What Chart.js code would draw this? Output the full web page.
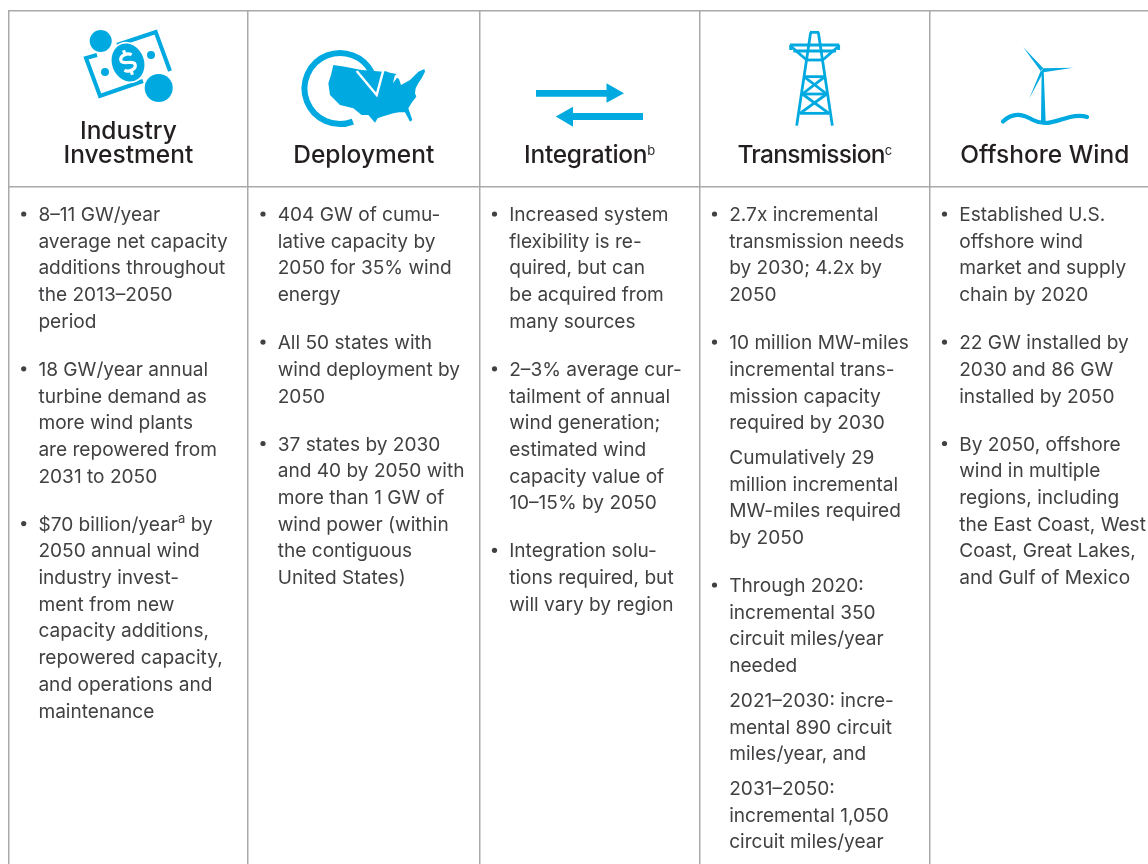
<!DOCTYPE html>
<html>
<head>
<meta charset="utf-8">
<title>Wind Vision roadmap table</title>
<script src="https://cdn.jsdelivr.net/npm/chart.js@4"></script>
<style>
  html, body { margin: 0; padding: 0; background: #fff; overflow: hidden; }
  canvas { display: block; }
</style>
</head>
<body>
<canvas id="table" width="1148" height="864"></canvas>
<script>
// column headings, ^x marks a superscript letter
const titles = [
  ["Industry", "Investment"],
  ["Deployment"],
  ["Integration^b"],
  ["Transmission^c"],
  ["Offshore Wind"]
];

// each paragraph is a list of lines, "• " starts a new bullet
const industryInvestment = [
  ["• 8–11 GW/year", "average net capacity", "additions throughout", "the 2013–2050", "period"],
  ["• 18 GW/year annual", "turbine demand as", "more wind plants", "are repowered from", "2031 to 2050"],
  ["• $70 billion/year^a by", "2050 annual wind", "industry invest-", "ment from new", "capacity additions,", "repowered capacity,", "and operations and", "maintenance"]
];
const deployment = [
  ["• 404 GW of cumu-", "lative capacity by", "2050 for 35% wind", "energy"],
  ["• All 50 states with", "wind deployment by", "2050"],
  ["• 37 states by 2030", "and 40 by 2050 with", "more than 1 GW of", "wind power (within", "the contiguous", "United States)"]
];
const integration = [
  ["• Increased system", "flexibility is re-", "quired, but can", "be acquired from", "many sources"],
  ["• 2–3% average cur-", "tailment of annual", "wind generation;", "estimated wind", "capacity value of", "10–15% by 2050"],
  ["• Integration solu-", "tions required, but", "will vary by region"]
];
const transmission = [
  ["• 2.7x incremental", "transmission needs", "by 2030; 4.2x by", "2050"],
  ["• 10 million MW-miles", "incremental trans-", "mission capacity", "required by 2030"],
  ["Cumulatively 29", "million incremental", "MW-miles required", "by 2050"],
  ["• Through 2020:", "incremental 350", "circuit miles/year", "needed"],
  ["2021–2030: incre-", "mental 890 circuit", "miles/year, and"],
  ["2031–2050:", "incremental 1,050", "circuit miles/year"]
];
const offshoreWind = [
  ["• Established U.S.", "offshore wind", "market and supply", "chain by 2020"],
  ["• 22 GW installed by", "2030 and 86 GW", "installed by 2050"],
  ["• By 2050, offshore", "wind in multiple", "regions, including", "the East Coast, West", "Coast, Great Lakes,", "and Gulf of Mexico"]
];
const columns = [industryInvestment, deployment, integration, transmission, offshoreWind];

// rule positions of the table
const columnEdges = [8.7, 248, 479.5, 699.5, 929.5];
const rowEdges = [10.7, 187];
const tableRight = 1160;

const BLUE = "#00a9e0";
const TEXT = "#414042";
const HEAD = "#231f20";
const BODY_FONT = '400 19.1px Inter';
const HEAD_FONT = '500 24.5px Inter';
const SUP_FONT = '400 13px Inter';
const HEAD_SPACING = [0, 0, -0.3, -0.7, 0];
const LINE = 26.7, BULLET_GAP = 21.3, SUB_GAP = 8;

// walk the paragraphs once so the bullets and the text share one layout
function layoutColumn(paragraphs) {
  let y = 221;
  const lines = [];
  const dots = [];
  paragraphs.forEach((para, p) => {
    const isBullet = para[0].startsWith("• ");
    if (p > 0) y += isBullet ? BULLET_GAP : SUB_GAP;
    if (isBullet) dots.push(y - 7);
    para.forEach((line, i) => {
      lines.push({ text: i === 0 && isBullet ? line.slice(2) : line, y });
      y += LINE;
    });
  });
  return { lines, dots };
}
const layouts = columns.map(layoutColumn);
const bulletPoints = layouts.flatMap((l, c) => l.dots.map(y => ({ x: columnEdges[c] + 15, y })));

function richWidth(ctx, text, font) {
  let w = 0;
  text.split(/\^(.)/).forEach((part, i) => {
    ctx.font = i % 2 ? SUP_FONT : font;
    w += ctx.measureText(part).width;
  });
  return w;
}

function drawRich(ctx, text, x, y, font) {
  text.split(/\^(.)/).forEach((part, i) => {
    if (!part) return;
    ctx.font = i % 2 ? SUP_FONT : font;
    ctx.fillText(part, x, i % 2 ? y - 8 : y);
    x += ctx.measureText(part).width;
  });
}

// icons, outlines
function poly(ctx, pts, ox, oy, k) {
  ctx.beginPath();
  pts.forEach((p, i) => ctx[i ? "lineTo" : "moveTo"](ox + p[0] / k, oy + p[1] / k));
  ctx.closePath();
}
function strokeLine(ctx, a, b, c, d) {
  ctx.beginPath(); ctx.moveTo(a, b); ctx.lineTo(c, d); ctx.stroke();
}

function drawMoneyIcon(ctx) {
  ctx.fillStyle = BLUE; ctx.strokeStyle = BLUE;
  ctx.beginPath(); ctx.arc(100.7, 41, 11, 0, 2 * Math.PI); ctx.fill();
  ctx.beginPath(); ctx.arc(158.7, 88, 14, 0, 2 * Math.PI); ctx.fill();
  ctx.lineWidth = 4;
  ctx.beginPath();
  ctx.moveTo(97, 55); ctx.lineTo(86, 58); ctx.lineTo(100, 96); ctx.lineTo(143, 81);
  ctx.stroke();
  ctx.beginPath();
  ctx.moveTo(117, 45); ctx.lineTo(155.7, 32); ctx.lineTo(170, 71);
  ctx.stroke();
  ctx.beginPath(); ctx.arc(105, 72, 4, 0, 2 * Math.PI); ctx.fill();
  ctx.beginPath(); ctx.arc(151, 55, 4, 0, 2 * Math.PI); ctx.fill();
  ctx.save();
  ctx.translate(128, 62.5);
  ctx.rotate(-0.35);
  ctx.beginPath(); ctx.ellipse(0, 0, 16, 19.5, 0, 0, 2 * Math.PI);
  ctx.strokeStyle = "#fff"; ctx.lineWidth = 3; ctx.stroke();
  ctx.fill();
  ctx.lineWidth = 3.2;
  ctx.beginPath();
  ctx.moveTo(6, -6); ctx.bezierCurveTo(3, -10, -6, -9, -6, -4);
  ctx.bezierCurveTo(-6, 1, 6, -1, 6, 4);
  ctx.bezierCurveTo(6, 9, -3, 10, -6, 6);
  ctx.stroke();
  strokeLine(ctx, 0, -13, 0, -8); strokeLine(ctx, 0, 8, 0, 13);
  ctx.restore();
}

const usaOutline = [[25,30],[60,35],[110,45],[175,50],[180,48],[195,53],[215,57],[209,62],[204,85],[216,68],[222,72],[228,90],[255,75],[268,62],[280,50],[298,42],[300,50],[290,70],[280,85],[272,100],[270,115],[274,125],[262,140],[250,160],[262,195],[255,200],[240,172],[222,172],[205,175],[170,185],[158,190],[150,203],[130,180],[110,180],[85,160],[45,150],[15,120],[10,85],[18,60]];

function drawMapIcon(ctx) {
  ctx.fillStyle = BLUE; ctx.strokeStyle = BLUE;
  poly(ctx, usaOutline, 325, 55, 3); ctx.fill();
  // white V of the arrow head, the map shows through as its blue inside
  ctx.strokeStyle = "#fff"; ctx.lineWidth = 2.4;
  ctx.beginPath();
  ctx.moveTo(325 + 95 / 3, 55 + 48 / 3);
  ctx.lineTo(325 + 155 / 3, 55 + 120 / 3);
  ctx.lineTo(325 + 175 / 3, 55 + 46 / 3);
  ctx.stroke();
  ctx.strokeStyle = BLUE; ctx.lineWidth = 6;
  ctx.beginPath(); ctx.arc(340, 88.5, 35.5, 1.2, 5.8); ctx.stroke();
}

function drawArrowsIcon(ctx) {
  ctx.fillStyle = BLUE;
  poly(ctx, [[536,90],[606.5,90],[606.5,83.3],[624,93.3],[606.5,102.7],[606.5,96.7],[536,96.7]], 0, 0, 1); ctx.fill();
  poly(ctx, [[643,113],[573,113],[573,106.7],[555.8,116.5],[573,126.7],[573,120],[643,120]], 0, 0, 1); ctx.fill();
}

const towerBars = [
  [122,22,80,302],[145,22,187,302],[120,22,147,22],
  [60,60,208,60],[70,78,198,78],
  [60,62,110,105],[208,62,158,105],[108,105,158,105],
  [62,60,62,75],[206,60,206,75],
  [102,155,165,155],[97,207,170,207],[90,265,177,265],
  [102,155,170,207],[165,155,97,207],[97,207,177,265],[170,207,90,265]
];

function drawTowerIcon(ctx) {
  ctx.strokeStyle = BLUE; ctx.lineWidth = 2.8;
  towerBars.forEach(b => strokeLine(ctx, 770 + b[0] / 3, 25 + b[1] / 3, 770 + b[2] / 3, 25 + b[3] / 3));
}

function drawTurbineIcon(ctx) {
  ctx.fillStyle = BLUE; ctx.strokeStyle = BLUE;
  poly(ctx, [[155,105],[161,105],[167,262],[153,262]], 990, 35, 3); ctx.fill();
  poly(ctx, [[152,108],[99,36],[160,100]], 990, 35, 3); ctx.fill();
  poly(ctx, [[157,100],[250,98],[160,112]], 990, 35, 3); ctx.fill();
  poly(ctx, [[152,108],[118,190],[161,110]], 990, 35, 3); ctx.fill();
  ctx.lineWidth = 4.2; ctx.lineCap = "round";
  ctx.beginPath();
  ctx.moveTo(1003, 121.5);
  ctx.bezierCurveTo(1014, 111, 1024, 115, 1033, 120);
  ctx.bezierCurveTo(1046, 127, 1058, 120, 1070, 117);
  ctx.bezierCurveTo(1077, 115.5, 1084, 116, 1087, 117);
  ctx.stroke();
  ctx.lineCap = "butt";
}

const tablePlugin = {
  id: "tablePlugin",
  afterDatasetsDraw(chart) {
    const { ctx, scales: { x, y } } = chart;
    ctx.save();
    [drawMoneyIcon, drawMapIcon, drawArrowsIcon, drawTowerIcon, drawTurbineIcon].forEach(f => { ctx.save(); f(ctx); ctx.restore(); });
    ctx.textBaseline = "alphabetic";
    ctx.textAlign = "left";

    titles.forEach((title, c) => {
      const right = c < columnEdges.length - 1 ? columnEdges[c + 1] : tableRight;
      const mid = x.getPixelForValue((columnEdges[c] + right) / 2);
      ctx.fillStyle = HEAD;
      ctx.letterSpacing = HEAD_SPACING[c] + "px";
      title.forEach((line, i) => {
        const w = richWidth(ctx, line, HEAD_FONT);
        const base = 163 - (title.length - 1 - i) * 24.5;
        drawRich(ctx, line, mid - w / 2, y.getPixelForValue(base), HEAD_FONT);
      });
    });
    ctx.letterSpacing = "0px";

    ctx.fillStyle = TEXT;
    layouts.forEach((layout, c) => {
      const left = x.getPixelForValue(columnEdges[c] + 29.7);
      layout.lines.forEach(l => drawRich(ctx, l.text, left, y.getPixelForValue(l.y), BODY_FONT));
    });
    ctx.restore();
  }
};

new Chart(document.getElementById("table"), {
  type: "scatter",
  data: {
    datasets: [{
      data: bulletPoints,
      pointRadius: 2.6,
      pointBackgroundColor: TEXT,
      pointBorderWidth: 0
    }]
  },
  options: {
    responsive: false,
    animation: false,
    layout: { autoPadding: false, padding: { left: 8, top: 10, right: 0, bottom: 0 } },
    plugins: { legend: { display: false }, tooltip: { enabled: false } },
    scales: {
      x: {
        type: "linear", min: 8, max: 1148,
        ticks: { display: false },
        border: { display: false },
        grid: { color: "#a9a9a9", lineWidth: 1.5, drawTicks: false },
        afterBuildTicks: axis => { axis.ticks = columnEdges.map(value => ({ value })); }
      },
      y: {
        type: "linear", min: 10, max: 864, reverse: true,
        ticks: { display: false },
        border: { display: false },
        grid: { color: "#a9a9a9", lineWidth: 1.5, drawTicks: false },
        afterBuildTicks: axis => { axis.ticks = rowEdges.map(value => ({ value })); }
      }
    }
  },
  plugins: [tablePlugin]
});
</script>
</body>
</html>
